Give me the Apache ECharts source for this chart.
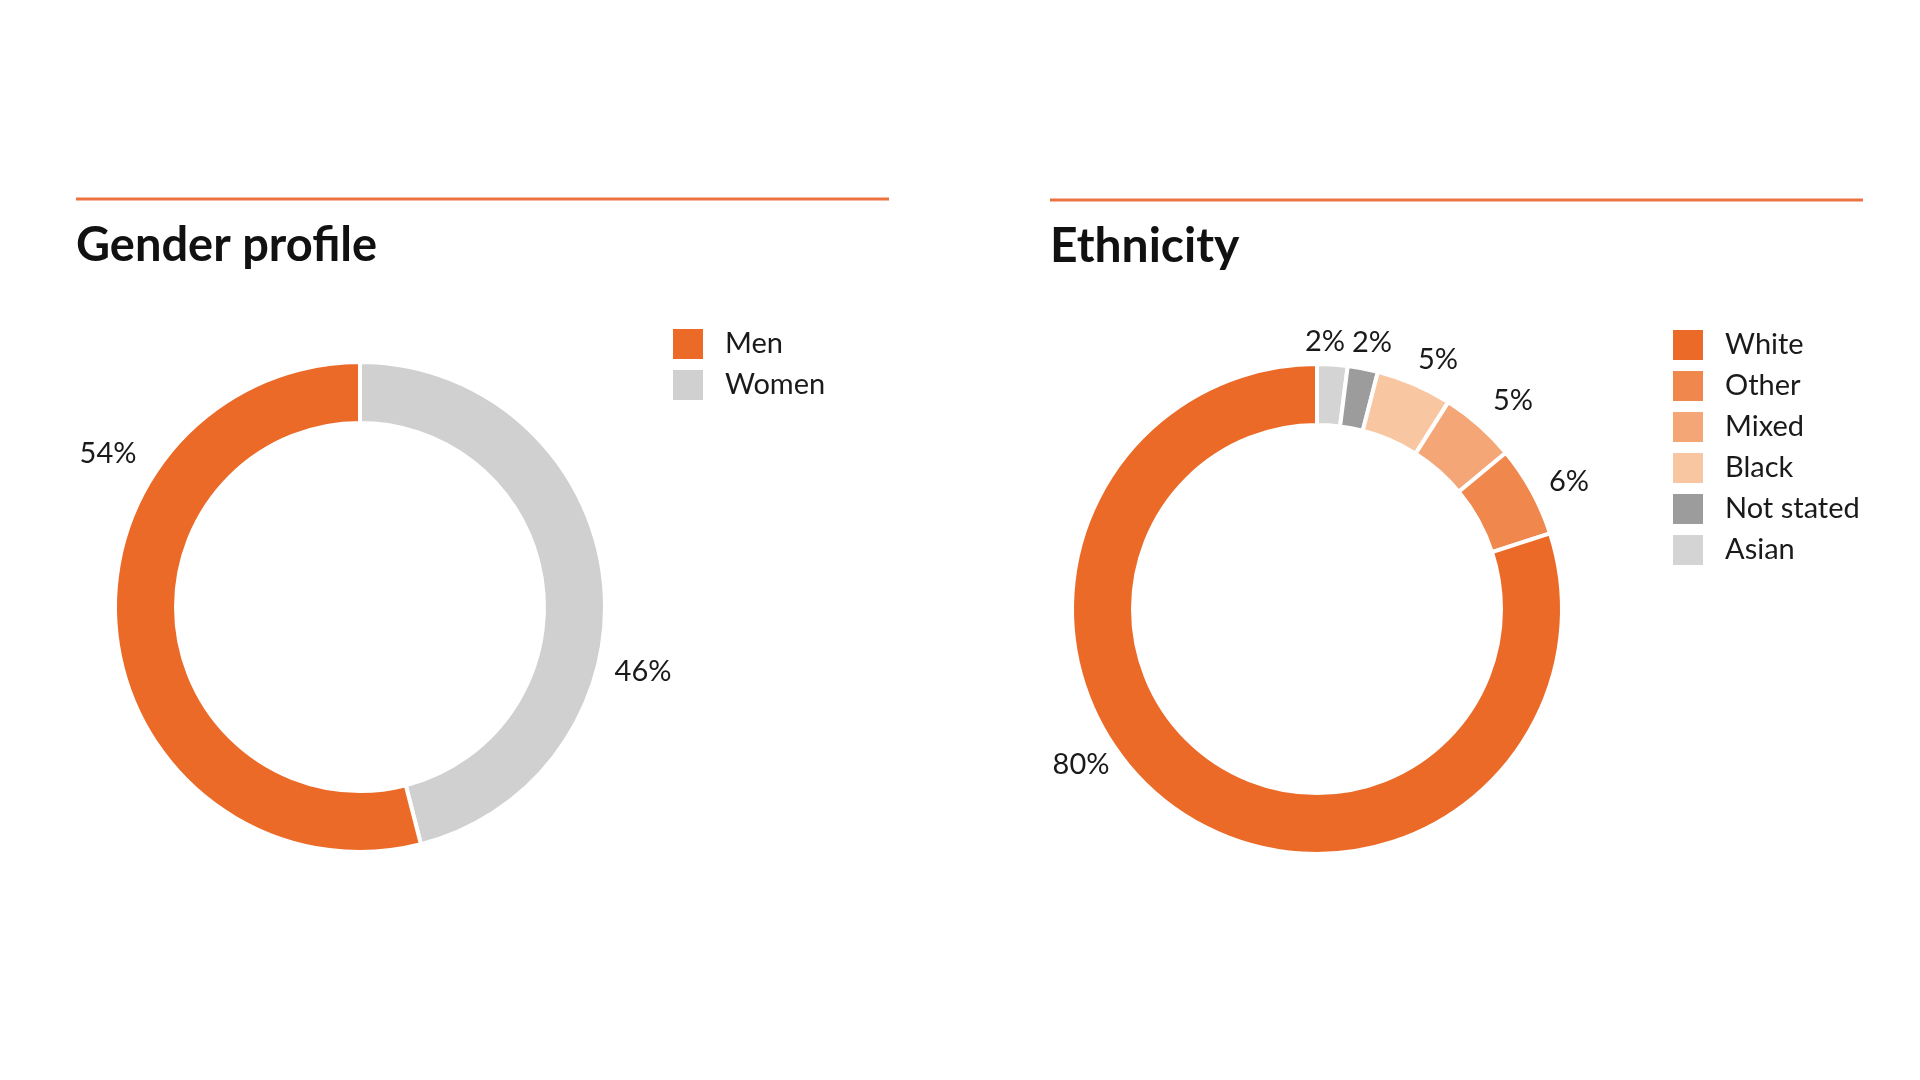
<!DOCTYPE html>
<html>
<head>
<meta charset="utf-8">
<script src="https://cdn.jsdelivr.net/npm/echarts@6/dist/echarts.min.js"></script>
<style>
html,body{margin:0;padding:0;background:#fff;}
#chart{width:1920px;height:1080px;}
</style>
</head>
<body>
<div id="chart"></div>
<script>
// ---- Data ----
const genderCategories = ['Women', 'Men'];
const genderValues = [46, 54];
const genderLegendOrder = ['Men', 'Women'];

const ethnicityCategories = ['Asian', 'Not stated', 'Black', 'Mixed', 'Other', 'White'];
const ethnicityValues = [2, 2, 5, 5, 6, 80];
const ethnicityLegendOrder = ['White', 'Other', 'Mixed', 'Black', 'Not stated', 'Asian'];

// ---- Styles ----
const genderColors = ['#D0D0D0', '#EB6A28'];
const ethnicityColors = ['#D4D4D4', '#9C9C9C', '#F9C6A2', '#F4A677', '#F0874C', '#EB6A28'];
const FONT = 'Lato';
const TEXT = '#1a1a1a';

const genderCenter = [360, 607];
const ethCenter = [1317, 609];
// label centre offsets from pie centre (layout)
const genderLabelOffsets = [[283, 65], [-252, -153]];
const ethLabelOffsets = [[8, -267], [55, -266], [121, -249], [196, -208], [252, -127], [-236, 156]];

const chart = echarts.init(document.getElementById('chart'), null, {renderer: 'canvas'});

function mkData(names, values, colors) {
  return names.map((n, i) => ({name: n, value: values[i], itemStyle: {color: colors[i]}}));
}

function pieSeries(names, values, colors, center, offsets) {
  return {
    type: 'pie',
    center: center,
    radius: [184, 245],
    startAngle: 90,
    clockwise: true,
    avoidLabelOverlap: false,
    emphasis: {disabled: true},
    itemStyle: {borderColor: '#ffffff', borderWidth: 4},
    label: {
      show: true,
      position: 'outside',
      formatter: '{c}%',
      fontFamily: FONT,
      fontSize: 29,
      color: TEXT
    },
    labelLine: {show: false},
    labelLayout: function (p) {
      const o = offsets[p.dataIndex];
      return {x: center[0] + o[0], y: center[1] + o[1], align: 'center', verticalAlign: 'middle', hideOverlap: false, moveOverlap: null};
    },
    data: mkData(names, values, colors)
  };
}

function legend(order, left, top) {
  return {
    orient: 'vertical',
    left: left,
    top: top,
    padding: 0,
    icon: 'rect',
    itemWidth: 32,
    itemHeight: 32,
    itemGap: 7,
    selectedMode: false,
    data: order,
    textStyle: {fontFamily: FONT, fontSize: 29, lineHeight: 32, color: TEXT, padding: [0, 0, 0, 16]}
  };
}

const option = {
  backgroundColor: '#ffffff',
  animation: false,
  title: [
    {text: 'Gender profile', left: 71, top: 217, textStyle: {fontFamily: FONT, fontWeight: 'bold', fontSize: 47, color: '#111'}},
    {text: 'Ethnicity', left: 1045, top: 218, textStyle: {fontFamily: FONT, fontWeight: 'bold', fontSize: 48, color: '#111'}}
  ],
  legend: [
    legend(genderLegendOrder, 671, 327),
    legend(ethnicityLegendOrder, 1671, 328)
  ],
  graphic: [
    {type: 'line', shape: {x1: 76, y1: 199, x2: 889, y2: 199}, style: {stroke: '#EE7240', lineWidth: 3}},
    {type: 'line', shape: {x1: 1050, y1: 200, x2: 1863, y2: 200}, style: {stroke: '#EE7240', lineWidth: 3}}
  ],
  series: [
    pieSeries(genderCategories, genderValues, genderColors, genderCenter, genderLabelOffsets),
    pieSeries(ethnicityCategories, ethnicityValues, ethnicityColors, ethCenter, ethLabelOffsets)
  ]
};
chart.setOption(option);
</script>
</body>
</html>
